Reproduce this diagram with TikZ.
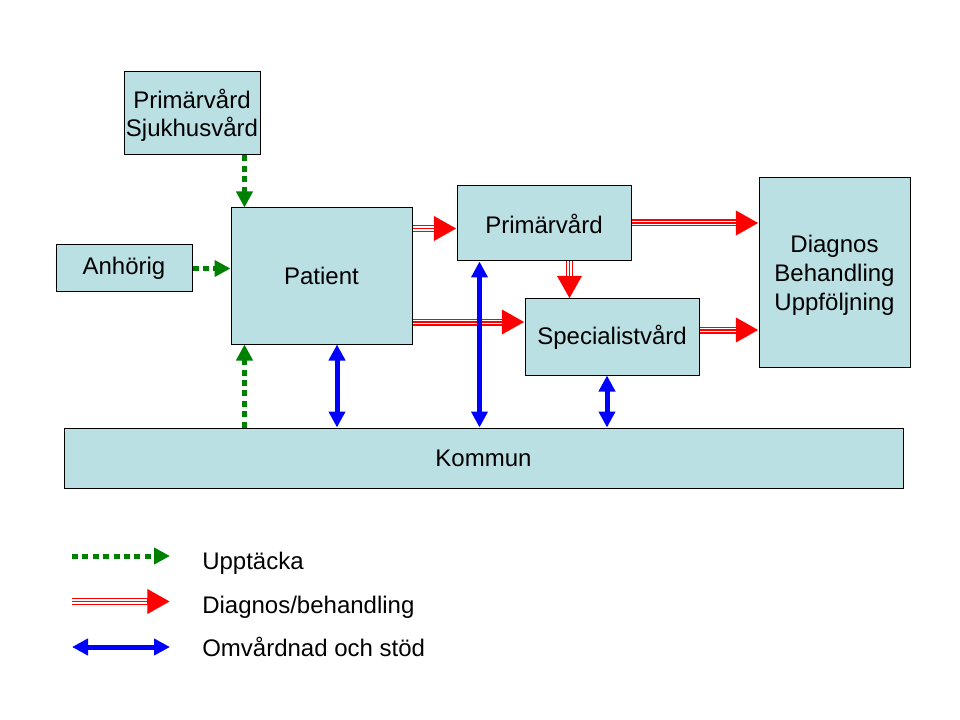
\documentclass[tikz,border=0pt]{standalone}
\usepackage{fontspec}
\setmainfont{Liberation Sans}
\usetikzlibrary{arrows.meta,calc}
\definecolor{boxfill}{RGB}{187,224,228}
\definecolor{upgreen}{RGB}{0,128,0}
\tikzset{
  box/.style={draw=black, line width=0.75pt, fill=boxfill, inner sep=0pt, align=center,
    font=\fontsize{18}{21.6}\selectfont},
  lbl/.style={font=\fontsize{18}{21.6}\selectfont, inner sep=0pt},
  gr/.style={upgreen, line width=3.75pt, dash pattern=on 4.5pt off 3.3pt,
    -{Triangle[length=12pt,width=12pt]}},
  bl/.style={blue, line width=3.75pt,
    {Triangle[length=12pt,width=12pt]}-{Triangle[length=12pt,width=12pt]}},
  redo/.style={red, line width=5.25pt, -{Triangle[length=17pt,width=17.5pt]}},
  redw/.style={white, line width=3.15pt, shorten >=17pt},
  redi/.style={red, line width=1.05pt, shorten >=17pt},
}
\newcommand\redarr[2]{\draw[redo] #1 -- #2; \draw[redw] #1 -- #2; \draw[redi] #1 -- #2;}
\newcommand\lowtext[1]{\raisebox{-2.5pt}[\height][\depth]{\begin{tabular}{@{}c@{}}#1\end{tabular}}}
\begin{document}
\begin{tikzpicture}[x=0.75pt,y=-0.75pt]
\useasboundingbox (0,0) rectangle (960,720);
% boxes
\node[box, minimum width=102pt, minimum height=62.25pt] (ps) at (192,113.5) {\lowtext{Primärvård\\Sjukhusvård}};
\node[box, minimum width=102pt, minimum height=35.25pt] (anh) at (124,268.5) {Anhörig};
\node[box, minimum width=135.75pt, minimum height=102pt] (pat) at (321.5,276) {Patient};
\node[box, minimum width=130.5pt, minimum height=56.25pt] (prim) at (544,223.5) {Primärvård};
\node[box, minimum width=130.5pt, minimum height=57pt] (spec) at (612,337) {Specialistvård};
\node[box, minimum width=113.25pt, minimum height=141.75pt] (diag) at (834.5,272.5) {\lowtext{Diagnos\\Behandling\\Uppföljning}};
\node[box, minimum width=629.25pt, minimum height=45pt] (kom) at (483.5,458) {Kommun};
% green arrows
\coordinate (g1) at ($(pat.north west)+(14,0)$);
\draw[gr] (ps.south -| g1) -- (g1);
\draw[gr] (anh.east) -- (anh.east -| pat.west);
\coordinate (g2) at ($(pat.south west)+(14,0)$);
\draw[gr] (kom.north -| g2) -- (g2);
% red arrows
\coordinate (r1) at ($(pat.north east)+(0,21)$);
\redarr{(r1)}{(r1 -| prim.west)}
\coordinate (r2) at ($(pat.east)+(0,46)$);
\redarr{(r2)}{(r2 -| spec.west)}
\coordinate (r3) at ($(prim.east)+(0,-0.5)$);
\redarr{(r3)}{(r3 -| diag.west)}
\coordinate (r4) at ($(spec.east)+(0,-7)$);
\redarr{(r4)}{(r4 -| diag.west)}
\coordinate (r5) at ($(spec.north west)+(45,0)$);
\redarr{(prim.south -| r5)}{(r5)}
% blue arrows
\coordinate (b1) at ($(pat.south)+(15.5,0)$);
\draw[bl] (b1) -- (kom.north -| b1);
\coordinate (b2) at ($(prim.south west)+(23,0)$);
\draw[bl] (b2) -- (kom.north -| b2);
\coordinate (b3) at ($(spec.south)+(-5,0)$);
\draw[bl] (b3) -- (kom.north -| b3);
% legend
\coordinate (l1a) at (72,556); \coordinate (l1b) at (170,556);
\coordinate (l2a) at (72,601.5); \coordinate (l2b) at (170,601.5);
\coordinate (l3a) at (72,647); \coordinate (l3b) at (170,647);
\draw[gr] (l1a) -- (l1b);
\redarr{(l2a)}{(l2b)}
\draw[bl] (l3a) -- (l3b);
\node[lbl, anchor=base west] (t1) at (202,569) {Upptäcka};
\node[lbl, anchor=base west] (t2) at (202,613) {Diagnos/behandling};
\node[lbl, anchor=base west] (t3) at (202,656) {Omvårdnad och stöd};
\end{tikzpicture}
\end{document}
